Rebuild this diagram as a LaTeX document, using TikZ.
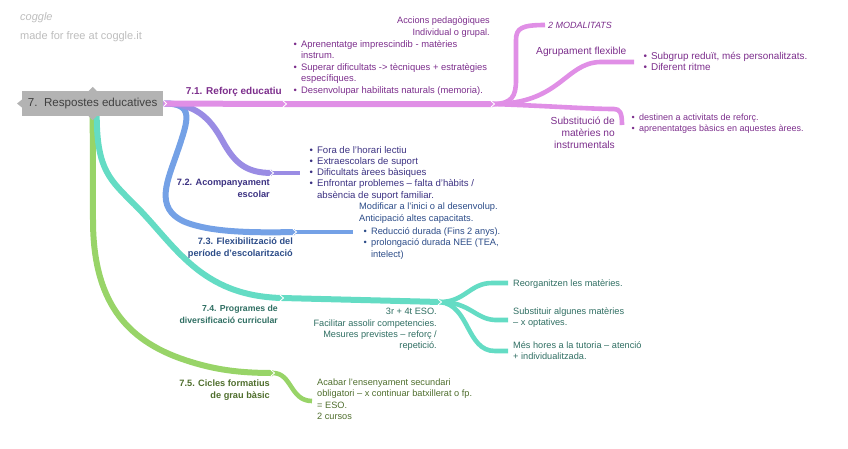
\documentclass[tikz,border=0pt]{standalone}
\usepackage{fontspec}
\setmainfont{Liberation Sans}
\definecolor{rootgray}{HTML}{B3B3B3}
\definecolor{roottx}{HTML}{404040}
\definecolor{logogray}{HTML}{BDBDBD}
\definecolor{pinkbr}{HTML}{E08FE6}
\definecolor{pinktx}{HTML}{7C2E8C}
\definecolor{lilabr}{HTML}{9A8CE4}
\definecolor{lilatx}{HTML}{3C3282}
\definecolor{bluebr}{HTML}{74A1E6}
\definecolor{bluetx}{HTML}{2C4C88}
\definecolor{tealbr}{HTML}{64DCC4}
\definecolor{tealtx}{HTML}{2F6E62}
\definecolor{greenbr}{HTML}{98D468}
\definecolor{greentx}{HTML}{4F6E2D}
\newcommand\bul{\makebox[7.5pt][l]{•}}
\newcommand\nob{\makebox[7.5pt]{}}

\begin{document}
\begin{tikzpicture}[x=1pt,y=-1pt,
  root/.style={fill=rootgray,text=roottx,inner xsep=5pt,minimum width=141pt,minimum height=25pt,font=\fontsize{11.6}{13}\selectfont},
  lbl/.style={anchor=north east,align=right,inner sep=0pt,font=\bfseries\fontsize{9.2}{11.8}\selectfont,execute at begin node=\strut},
  txt/.style={anchor=north west,align=left,inner sep=0pt,font=\fontsize{9.2}{11.4}\selectfont,execute at begin node=\strut},
  rtxt/.style={txt,anchor=north east,align=right},
  trunk/.style={line width=6pt},
  twig/.style={line width=4.6pt},
  chev/.style={white,line width=0.9pt}]
\useasboundingbox (0,0) rectangle (848,448);
\node[anchor=west,inner sep=0pt,text=logogray,font=\itshape\fontsize{11}{13}\selectfont] (logo) at (20,18) {coggle};
\node[anchor=west,inner sep=0pt,text=logogray,font=\fontsize{11}{13}\selectfont] (made) at (20,37) {made for free at coggle.it};
\node[root,anchor=west] (root) at (22,103.5) {7.\ \ Respostes educatives};
% joints
\coordinate (c71) at (285,104);\coordinate (s71) at (493,104);
\coordinate (e71a) at (545,25);\coordinate (e71b) at (634,62);
\coordinate (c72) at (272,173);\coordinate (e72) at (300,173);
\coordinate (c73) at (295,232);\coordinate (e73) at (353,232);
\coordinate (r74) at ([xshift=4pt]root.south);\coordinate (c74) at (282,298);\coordinate (s74) at (440,302);
\coordinate (e74a) at (508,283);\coordinate (e74b) at (508,320);\coordinate (e74c) at (508,351);
\coordinate (c75) at (273,373);\coordinate (e75) at (312,401);
% 7.5
\draw[greenbr,trunk] (root.south) -- (93,220) .. controls (93,300) and (125,340) .. (185,360) .. controls (215,370) and (240,373) .. (c75);
\draw[greenbr,twig] (c75) .. controls (292,373) and (290,401) .. (e75);
% 7.4
\draw[tealbr,trunk] (r74) .. controls (97,170) and (110,180) .. (135,205) .. controls (175,245) and (200,296) .. (c74) -- (s74);
\draw[tealbr,twig] (s74) .. controls (465,302) and (470,283) .. (492,283) -- (e74a);
\draw[tealbr,twig] (s74) .. controls (470,302) and (475,319) .. (495,320) -- (e74b);
\draw[tealbr,twig] (s74) .. controls (470,305) and (466,351) .. (495,351) -- (e74c);
% 7.3
\draw[bluebr,trunk] (root.east) .. controls (195,103) and (188,120) .. (178,150) .. controls (168,180) and (153,208) .. (185,222) .. controls (210,232) and (250,233) .. (c73);
\draw[bluebr,twig] (c73) -- (e73);
% 7.2
\draw[lilabr,trunk] (root.east) .. controls (195,103) and (210,118) .. (222,140) .. controls (234,162) and (245,173) .. (c72);
\draw[lilabr,twig] (c72) -- (e72);
% 7.1
\draw[pinkbr,trunk] (root.east) -- (c71) -- (s71);
\draw[pinkbr,twig] (s71) .. controls (512,104) and (516,96) .. (516,80) -- (516,40) .. controls (516,28) and (522,25) .. (e71a);
\draw[pinkbr,twig] (s71) .. controls (560,104) and (565,63) .. (600,62) -- (e71b);
\draw[pinkbr,twig] (s71) .. controls (550,106) and (590,109) .. (614,109) .. controls (620,109) and (622,113) .. (622,125);
\foreach \p in {c71,s71,c72,c73,c74,s74,c75}
  \draw[chev] ([xshift=-2pt,yshift=3pt]\p) -- ([xshift=1.5pt]\p) -- ([xshift=-2pt,yshift=-3pt]\p);
\draw[chev] ([yshift=3pt]root.east) -- ([xshift=3pt]root.east) -- ([yshift=-3pt]root.east);
\fill[rootgray] ([yshift=4pt]root.west) -- ++(-5,4) -- ([yshift=-4pt]root.west);
\fill[rootgray] ([xshift=-4pt]root.north) -- ++(4,-4) -- ([xshift=4pt]root.north);
\fill[rootgray] ([xshift=-4pt]root.south) -- ++(4,4) -- ([xshift=4pt]root.south);
% 7.1 texts
\node[lbl,text=pinktx,font=\bfseries\fontsize{10}{12}\selectfont] (l71) at (282,86) {7.1. Reforç educatiu};
\node[rtxt,text=pinktx] (accions) at (490,17) {Accions pedagògiques\\Individual o grupal.};
\node[txt,text=pinktx,font=\fontsize{9.4}{11.5}\selectfont] (b71) at (293.4,40) {\bul Aprenentatge imprescindib - matèries\\\nob instrum.\\\bul Superar dificultats -> tècniques + estratègies\\\nob específiques.\\\bul Desenvolupar habilitats naturals (memoria).};
\node[anchor=west,inner sep=0pt,text=pinktx,font=\itshape\fontsize{9}{11}\selectfont] (modal) at (548,25) {2 MODALITATS};
\node[txt,text=pinktx,font=\fontsize{10.2}{12}\selectfont] (agrup) at (536,46) {Agrupament flexible};
\node[txt,text=pinktx,font=\fontsize{9.9}{11.5}\selectfont] (b71b) at (643.4,52) {\bul Subgrup reduït, més personalitzats.\\\bul Diferent ritme};
\node[rtxt,text=pinktx,font=\fontsize{10.2}{12}\selectfont] (subst) at (615,117) {Substitució de\\matèries no\\instrumentals};
\node[txt,text=pinktx,font=\fontsize{9}{11.2}\selectfont] (b71c) at (631.4,114) {\bul destinen a activitats de reforç.\\\bul aprenentatges bàsics en aquestes àrees.};
% 7.2 texts
\node[lbl,text=lilatx] (l72) at (270,179) {7.2. Acompanyament\\escolar};
\node[txt,text=lilatx,font=\fontsize{9.6}{11.25}\selectfont] (b72) at (309.4,146) {\bul Fora de l'horari lectiu\\\bul Extraescolars de suport\\\bul Dificultats àrees bàsiques\\\bul Enfrontar problemes – falta d'hàbits /\\\nob absència de suport familiar.};
% 7.3 texts
\node[lbl,text=bluetx,font=\bfseries\fontsize{9.2}{11.6}\selectfont] (l73) at (293,238) {7.3. Flexibilització del\\període d'escolarització};
\node[txt,text=bluetx,font=\fontsize{9.3}{11.7}\selectfont] (t73) at (359,203) {Modificar a l'inici o al desenvolup.\\Anticipació altes capacitats.};
\node[txt,text=bluetx,font=\fontsize{9.3}{11.5}\selectfont] (b73) at (363.4,227) {\bul Reducció durada (Fins 2 anys).\\\bul prolongació durada NEE (TEA,\\\nob intelect)};
% 7.4 texts
\node[lbl,text=tealtx,font=\bfseries\fontsize{8.7}{12}\selectfont] (l74) at (278,305) {7.4. Programes de\\diversificació curricular};
\node[rtxt,text=tealtx] (t74) at (437,308) {3r + 4t ESO.\\Facilitar assolir competencies.\\Mesures previstes – reforç /\\repetició.};
\node[txt,text=tealtx] (t74a) at (513,278) {Reorganitzen les matèries.};
\node[txt,text=tealtx,font=\fontsize{9.2}{10.8}\selectfont] (t74b) at (513,308) {Substituir algunes matèries\\– x optatives.};
\node[txt,text=tealtx,font=\fontsize{9.2}{11}\selectfont] (t74c) at (513,342) {Més hores a la tutoria – atenció\\+ individualitzada.};
% 7.5 texts
\node[lbl,text=greentx] (l75) at (270,380) {7.5. Cicles formatius\\de grau bàsic};
\node[txt,text=greentx,font=\fontsize{9.2}{11.1}\selectfont] (t75) at (317,379) {Acabar l'ensenyament secundari\\obligatori – x continuar batxillerat o fp.\\= ESO.\\2 cursos};
\end{tikzpicture}
\end{document}
